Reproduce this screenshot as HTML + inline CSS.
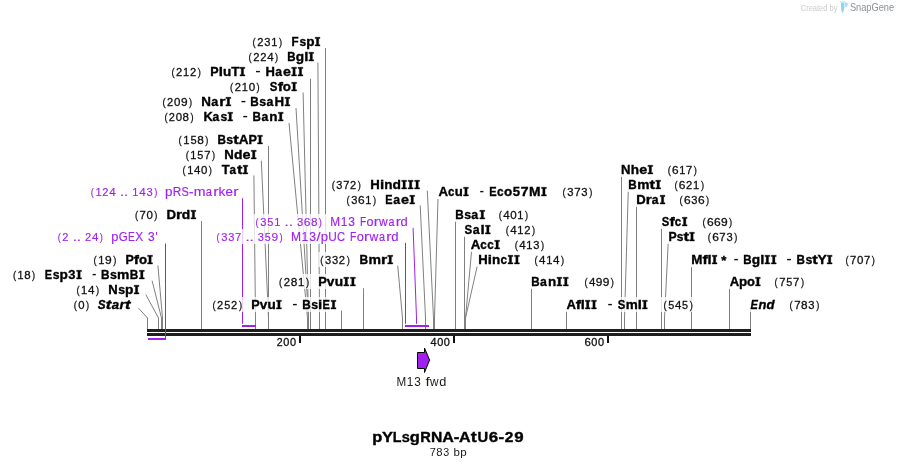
<!DOCTYPE html>
<html><head><meta charset="utf-8"><style>
html,body{margin:0;padding:0;background:#fff;}
body{width:898px;height:468px;overflow:hidden;position:relative;}
svg{position:absolute;left:0;top:0;will-change:transform;}
text{font-family:"Liberation Sans",sans-serif;font-kerning:none;}
</style></head><body>
<svg width="898" height="468" viewBox="0 0 898 468">

<g stroke="#808080" stroke-width="1" fill="none"><path d="M325.50 48.10L325.50 318L325.50 329"/><path d="M317.90 62.50L319.50 318L319.50 329"/><path d="M310.50 78.80L310.50 318L310.50 329"/><path d="M303.10 92.50L308.50 318L308.50 329"/><path d="M296.00 108.00L308.50 318L308.50 329"/><path d="M289.00 123.00L307.50 318L307.50 329"/><path d="M268.50 146.00L268.50 318L268.50 329"/><path d="M261.30 160.70L268.50 318L268.50 329"/><path d="M253.90 175.40L255.50 318L255.50 329"/><path d="M201.50 221.00L201.50 318L201.50 329"/><path d="M157.90 265.40L162.50 318L162.50 329"/><path d="M152.10 280.70L161.50 318L161.50 329"/><path d="M145.80 294.60L158.50 318L158.50 329"/><path d="M138.50 308.20L147.50 318L147.50 329"/><path d="M427.30 190.70L433.50 318L433.50 329"/><path d="M420.20 205.40L425.50 318L425.50 329"/><path d="M397.70 265.60L402.50 318L402.50 329"/><path d="M363.50 288.30L363.50 318L363.50 329"/><path d="M341.50 310.60L341.50 318L341.50 329"/><path d="M438.00 199.00L434.50 318L434.50 329"/><path d="M455.50 221.00L455.50 318L455.50 329"/><path d="M464.50 236.00L464.50 318L464.50 329"/><path d="M471.60 250.70L465.50 318L465.50 329"/><path d="M477.40 265.50L465.50 318L465.50 329"/><path d="M531.50 288.10L531.50 318L531.50 329"/><path d="M566.50 311.00L566.50 318L566.50 329"/><path d="M621.50 175.40L621.50 318L621.50 329"/><path d="M628.30 189.60L624.50 318L624.50 329"/><path d="M636.50 205.70L636.50 318L636.50 329"/><path d="M661.50 228.00L661.50 318L661.50 329"/><path d="M668.20 242.60L664.50 318L664.50 329"/><path d="M691.50 267.20L691.50 318L691.50 329"/><path d="M729.50 288.30L729.50 318L729.50 329"/><path d="M750.50 310.00L750.50 318L750.50 329"/></g>
<g stroke="#a020f0" stroke-width="1" fill="none"><path d="M242.5 198.3V323.8"/><path d="M413.1 227.8L416.5 318V323.8"/><path d="M405.5 242.8V323.8"/></g>
<rect x="250.7" y="34.0" width="71.7" height="15" fill="#fff" fill-opacity="0.78"/>
<rect x="246.7" y="49.0" width="69.4" height="15" fill="#fff" fill-opacity="0.78"/>
<rect x="169.6" y="64.0" width="135.7" height="15" fill="#fff" fill-opacity="0.78"/>
<rect x="228.2" y="79.0" width="70.8" height="15" fill="#fff" fill-opacity="0.78"/>
<rect x="160.7" y="94.0" width="131.6" height="15" fill="#fff" fill-opacity="0.78"/>
<rect x="162.5" y="109.0" width="123.1" height="15" fill="#fff" fill-opacity="0.78"/>
<rect x="176.7" y="132.0" width="88.2" height="15" fill="#fff" fill-opacity="0.78"/>
<rect x="183.8" y="147.0" width="74.8" height="15" fill="#fff" fill-opacity="0.78"/>
<rect x="180.7" y="162.0" width="69.5" height="15" fill="#fff" fill-opacity="0.78"/>
<rect x="88.8" y="184.0" width="151.9" height="15" fill="#fff" fill-opacity="0.78"/>
<rect x="133.1" y="207.0" width="65.2" height="15" fill="#fff" fill-opacity="0.78"/>
<rect x="55.8" y="229.0" width="103.8" height="15" fill="#fff" fill-opacity="0.78"/>
<rect x="253.6" y="214.0" width="155.8" height="15" fill="#fff" fill-opacity="0.78"/>
<rect x="214.6" y="229.0" width="185.6" height="15" fill="#fff" fill-opacity="0.78"/>
<rect x="91.7" y="252.0" width="63.2" height="15" fill="#fff" fill-opacity="0.78"/>
<rect x="11.1" y="267.0" width="135.6" height="15" fill="#fff" fill-opacity="0.78"/>
<rect x="74.5" y="282.0" width="66.9" height="15" fill="#fff" fill-opacity="0.78"/>
<rect x="71.8" y="297.0" width="61.8" height="15" fill="#fff" fill-opacity="0.78"/>
<rect x="329.8" y="177.0" width="92.2" height="15" fill="#fff" fill-opacity="0.78"/>
<rect x="344.7" y="192.0" width="72.4" height="15" fill="#fff" fill-opacity="0.78"/>
<rect x="318.4" y="252.0" width="76.8" height="15" fill="#fff" fill-opacity="0.78"/>
<rect x="277.2" y="274.0" width="80.6" height="15" fill="#fff" fill-opacity="0.78"/>
<rect x="210.7" y="297.0" width="127.7" height="15" fill="#fff" fill-opacity="0.78"/>
<rect x="436.5" y="184.0" width="157.7" height="15" fill="#fff" fill-opacity="0.78"/>
<rect x="453.6" y="207.0" width="76.5" height="15" fill="#fff" fill-opacity="0.78"/>
<rect x="462.5" y="222.0" width="74.6" height="15" fill="#fff" fill-opacity="0.78"/>
<rect x="468.8" y="237.0" width="77.3" height="15" fill="#fff" fill-opacity="0.78"/>
<rect x="476.7" y="252.0" width="89.3" height="15" fill="#fff" fill-opacity="0.78"/>
<rect x="529.6" y="274.0" width="86.2" height="15" fill="#fff" fill-opacity="0.78"/>
<rect x="564.5" y="297.0" width="130.3" height="15" fill="#fff" fill-opacity="0.78"/>
<rect x="619.6" y="162.0" width="79.2" height="15" fill="#fff" fill-opacity="0.78"/>
<rect x="626.7" y="177.0" width="79.2" height="15" fill="#fff" fill-opacity="0.78"/>
<rect x="634.8" y="192.0" width="76.2" height="15" fill="#fff" fill-opacity="0.78"/>
<rect x="659.7" y="214.0" width="74.4" height="15" fill="#fff" fill-opacity="0.78"/>
<rect x="666.8" y="229.0" width="72.4" height="15" fill="#fff" fill-opacity="0.78"/>
<rect x="689.7" y="252.0" width="187.1" height="15" fill="#fff" fill-opacity="0.78"/>
<rect x="727.6" y="274.0" width="78.3" height="15" fill="#fff" fill-opacity="0.78"/>
<rect x="748.3" y="297.0" width="72.9" height="15" fill="#fff" fill-opacity="0.78"/>
<text transform="matrix(0.800 0 0 1 252.62 46.00)" font-size="11.66" fill="#111" stroke="#111" stroke-width="0.3">(</text>
<text transform="matrix(0.959 0 0 1 257.14 46.00)" font-size="11.66" fill="#111" stroke="#111" stroke-width="0.3">2</text>
<text transform="matrix(0.955 0 0 1 264.31 46.00)" font-size="11.66" fill="#111" stroke="#111" stroke-width="0.3">3</text>
<text transform="matrix(0.950 0 0 1 271.27 46.00)" font-size="11.66" fill="#111" stroke="#111" stroke-width="0.3">1</text>
<text transform="matrix(0.800 0 0 1 279.08 46.00)" font-size="11.66" fill="#111" stroke="#111" stroke-width="0.3">)</text>
<text transform="matrix(0.916 0 0 1 291.62 46.00)" font-size="12.72" font-weight="bold" fill="#000" stroke="#000" stroke-width="0.35">F</text>
<text transform="matrix(0.947 0 0 1 299.47 46.00)" font-size="12.72" font-weight="bold" fill="#000" stroke="#000" stroke-width="0.35">s</text>
<text transform="matrix(1.067 0 0 1 306.31 46.00)" font-size="12.72" font-weight="bold" fill="#000" stroke="#000" stroke-width="0.35">p</text>
<path d="M315.14 37.25H320.00V38.57H318.71V44.68H320.00V46.00H315.14V44.68H316.43V38.57H315.14Z" fill="#000" stroke="#000" stroke-width="0.35"/>
<text transform="matrix(0.800 0 0 1 248.62 61.00)" font-size="11.66" fill="#111" stroke="#111" stroke-width="0.3">(</text>
<text transform="matrix(0.959 0 0 1 253.14 61.00)" font-size="11.66" fill="#111" stroke="#111" stroke-width="0.3">2</text>
<text transform="matrix(0.959 0 0 1 260.14 61.00)" font-size="11.66" fill="#111" stroke="#111" stroke-width="0.3">2</text>
<text transform="matrix(0.995 0 0 1 267.17 61.00)" font-size="11.66" fill="#111" stroke="#111" stroke-width="0.3">4</text>
<text transform="matrix(0.800 0 0 1 275.08 61.00)" font-size="11.66" fill="#111" stroke="#111" stroke-width="0.3">)</text>
<text transform="matrix(0.905 0 0 1 287.23 61.00)" font-size="12.72" font-weight="bold" fill="#000" stroke="#000" stroke-width="0.35">B</text>
<text transform="matrix(1.074 0 0 1 295.81 61.00)" font-size="12.72" font-weight="bold" fill="#000" stroke="#000" stroke-width="0.35">g</text>
<text transform="matrix(1.172 0 0 1 304.16 61.00)" font-size="12.72" font-weight="bold" fill="#000" stroke="#000" stroke-width="0.35">l</text>
<path d="M308.82 52.25H313.70V53.57H312.40V59.68H313.70V61.00H308.82V59.68H310.12V53.57H308.82Z" fill="#000" stroke="#000" stroke-width="0.35"/>
<text transform="matrix(0.800 0 0 1 171.51 76.00)" font-size="11.66" fill="#111" stroke="#111" stroke-width="0.3">(</text>
<text transform="matrix(0.952 0 0 1 176.01 76.00)" font-size="11.66" fill="#111" stroke="#111" stroke-width="0.3">2</text>
<text transform="matrix(0.944 0 0 1 183.09 76.00)" font-size="11.66" fill="#111" stroke="#111" stroke-width="0.3">1</text>
<text transform="matrix(0.952 0 0 1 189.92 76.00)" font-size="11.66" fill="#111" stroke="#111" stroke-width="0.3">2</text>
<text transform="matrix(0.800 0 0 1 197.78 76.00)" font-size="11.66" fill="#111" stroke="#111" stroke-width="0.3">)</text>
<text transform="matrix(0.988 0 0 1 210.36 76.00)" font-size="12.72" font-weight="bold" fill="#000" stroke="#000" stroke-width="0.35">P</text>
<text transform="matrix(1.186 0 0 1 218.74 76.00)" font-size="12.72" font-weight="bold" fill="#000" stroke="#000" stroke-width="0.35">l</text>
<text transform="matrix(1.060 0 0 1 222.94 76.00)" font-size="12.72" font-weight="bold" fill="#000" stroke="#000" stroke-width="0.35">u</text>
<text transform="matrix(1.063 0 0 1 231.19 76.00)" font-size="12.72" font-weight="bold" fill="#000" stroke="#000" stroke-width="0.35">T</text>
<path d="M239.96 67.25H244.90V68.57H243.57V74.68H244.90V76.00H239.96V74.68H241.29V68.57H239.96Z" fill="#000" stroke="#000" stroke-width="0.35"/>
<rect x="256.00" y="70.90" width="3.90" height="1.4" fill="#111"/>
<text transform="matrix(1.025 0 0 1 265.53 76.00)" font-size="12.72" font-weight="bold" fill="#000" stroke="#000" stroke-width="0.35">H</text>
<text transform="matrix(0.957 0 0 1 275.29 76.00)" font-size="12.72" font-weight="bold" fill="#000" stroke="#000" stroke-width="0.35">a</text>
<text transform="matrix(1.121 0 0 1 283.01 76.00)" font-size="12.72" font-weight="bold" fill="#000" stroke="#000" stroke-width="0.35">e</text>
<path d="M291.60 67.25H296.49V68.57H295.19V74.68H296.49V76.00H291.60V74.68H292.91V68.57H291.60Z" fill="#000" stroke="#000" stroke-width="0.35"/>
<path d="M298.01 67.25H302.90V68.57H301.59V74.68H302.90V76.00H298.01V74.68H299.31V68.57H298.01Z" fill="#000" stroke="#000" stroke-width="0.35"/>
<text transform="matrix(0.800 0 0 1 230.12 91.00)" font-size="11.66" fill="#111" stroke="#111" stroke-width="0.3">(</text>
<text transform="matrix(0.959 0 0 1 234.64 91.00)" font-size="11.66" fill="#111" stroke="#111" stroke-width="0.3">2</text>
<text transform="matrix(0.950 0 0 1 241.76 91.00)" font-size="11.66" fill="#111" stroke="#111" stroke-width="0.3">1</text>
<text transform="matrix(0.995 0 0 1 248.67 91.00)" font-size="11.66" fill="#111" stroke="#111" stroke-width="0.3">0</text>
<text transform="matrix(0.800 0 0 1 256.58 91.00)" font-size="11.66" fill="#111" stroke="#111" stroke-width="0.3">)</text>
<text transform="matrix(0.897 0 0 1 269.67 91.00)" font-size="12.72" font-weight="bold" fill="#000" stroke="#000" stroke-width="0.35">S</text>
<text transform="matrix(1.249 0 0 1 277.66 91.00)" font-size="12.72" font-weight="bold" fill="#000" stroke="#000" stroke-width="0.35">f</text>
<text transform="matrix(1.055 0 0 1 282.87 91.00)" font-size="12.72" font-weight="bold" fill="#000" stroke="#000" stroke-width="0.35">o</text>
<path d="M291.64 82.25H296.60V83.57H295.26V89.68H296.60V91.00H291.64V89.68H292.98V83.57H291.64Z" fill="#000" stroke="#000" stroke-width="0.35"/>
<text transform="matrix(0.800 0 0 1 162.61 106.00)" font-size="11.66" fill="#111" stroke="#111" stroke-width="0.3">(</text>
<text transform="matrix(0.952 0 0 1 167.11 106.00)" font-size="11.66" fill="#111" stroke="#111" stroke-width="0.3">2</text>
<text transform="matrix(0.988 0 0 1 174.09 106.00)" font-size="11.66" fill="#111" stroke="#111" stroke-width="0.3">0</text>
<text transform="matrix(1.020 0 0 1 180.91 106.00)" font-size="11.66" fill="#111" stroke="#111" stroke-width="0.3">9</text>
<text transform="matrix(0.800 0 0 1 188.88 106.00)" font-size="11.66" fill="#111" stroke="#111" stroke-width="0.3">)</text>
<text transform="matrix(1.057 0 0 1 201.20 106.00)" font-size="12.72" font-weight="bold" fill="#000" stroke="#000" stroke-width="0.35">N</text>
<text transform="matrix(0.987 0 0 1 211.27 106.00)" font-size="12.72" font-weight="bold" fill="#000" stroke="#000" stroke-width="0.35">a</text>
<text transform="matrix(1.254 0 0 1 219.25 106.00)" font-size="12.72" font-weight="bold" fill="#000" stroke="#000" stroke-width="0.35">r</text>
<path d="M225.85 97.25H230.90V98.57H229.52V104.68H230.90V106.00H225.85V104.68H227.24V98.57H225.85Z" fill="#000" stroke="#000" stroke-width="0.35"/>
<rect x="241.50" y="100.90" width="3.90" height="1.4" fill="#111"/>
<text transform="matrix(0.925 0 0 1 250.31 106.00)" font-size="12.72" font-weight="bold" fill="#000" stroke="#000" stroke-width="0.35">B</text>
<text transform="matrix(0.972 0 0 1 259.30 106.00)" font-size="12.72" font-weight="bold" fill="#000" stroke="#000" stroke-width="0.35">s</text>
<text transform="matrix(0.975 0 0 1 266.39 106.00)" font-size="12.72" font-weight="bold" fill="#000" stroke="#000" stroke-width="0.35">a</text>
<text transform="matrix(1.045 0 0 1 274.51 106.00)" font-size="12.72" font-weight="bold" fill="#000" stroke="#000" stroke-width="0.35">H</text>
<path d="M284.91 97.25H289.90V98.57H288.55V104.68H289.90V106.00H284.91V104.68H286.27V98.57H284.91Z" fill="#000" stroke="#000" stroke-width="0.35"/>
<text transform="matrix(0.800 0 0 1 164.40 121.00)" font-size="11.66" fill="#111" stroke="#111" stroke-width="0.3">(</text>
<text transform="matrix(0.942 0 0 1 168.87 121.00)" font-size="11.66" fill="#111" stroke="#111" stroke-width="0.3">2</text>
<text transform="matrix(0.977 0 0 1 175.78 121.00)" font-size="11.66" fill="#111" stroke="#111" stroke-width="0.3">0</text>
<text transform="matrix(0.988 0 0 1 182.62 121.00)" font-size="11.66" fill="#111" stroke="#111" stroke-width="0.3">8</text>
<text transform="matrix(0.800 0 0 1 190.40 121.00)" font-size="11.66" fill="#111" stroke="#111" stroke-width="0.3">)</text>
<text transform="matrix(1.019 0 0 1 203.43 121.00)" font-size="12.72" font-weight="bold" fill="#000" stroke="#000" stroke-width="0.35">K</text>
<text transform="matrix(0.957 0 0 1 212.46 121.00)" font-size="12.72" font-weight="bold" fill="#000" stroke="#000" stroke-width="0.35">a</text>
<text transform="matrix(0.954 0 0 1 220.42 121.00)" font-size="12.72" font-weight="bold" fill="#000" stroke="#000" stroke-width="0.35">s</text>
<path d="M227.81 112.25H232.70V113.57H231.39V119.68H232.70V121.00H227.81V119.68H229.11V113.57H227.81Z" fill="#000" stroke="#000" stroke-width="0.35"/>
<rect x="243.30" y="115.90" width="3.90" height="1.4" fill="#111"/>
<text transform="matrix(0.916 0 0 1 252.52 121.00)" font-size="12.72" font-weight="bold" fill="#000" stroke="#000" stroke-width="0.35">B</text>
<text transform="matrix(0.966 0 0 1 261.39 121.00)" font-size="12.72" font-weight="bold" fill="#000" stroke="#000" stroke-width="0.35">a</text>
<text transform="matrix(1.060 0 0 1 269.34 121.00)" font-size="12.72" font-weight="bold" fill="#000" stroke="#000" stroke-width="0.35">n</text>
<path d="M278.26 112.25H283.20V113.57H281.87V119.68H283.20V121.00H278.26V119.68H279.59V113.57H278.26Z" fill="#000" stroke="#000" stroke-width="0.35"/>
<text transform="matrix(0.806 0 0 1 178.62 144.00)" font-size="11.66" fill="#111" stroke="#111" stroke-width="0.3">(</text>
<text transform="matrix(0.960 0 0 1 183.31 144.00)" font-size="11.66" fill="#111" stroke="#111" stroke-width="0.3">1</text>
<text transform="matrix(0.949 0 0 1 190.43 144.00)" font-size="11.66" fill="#111" stroke="#111" stroke-width="0.3">5</text>
<text transform="matrix(1.016 0 0 1 197.33 144.00)" font-size="11.66" fill="#111" stroke="#111" stroke-width="0.3">8</text>
<text transform="matrix(0.806 0 0 1 205.35 144.00)" font-size="11.66" fill="#111" stroke="#111" stroke-width="0.3">)</text>
<text transform="matrix(0.922 0 0 1 217.42 144.00)" font-size="12.72" font-weight="bold" fill="#000" stroke="#000" stroke-width="0.35">B</text>
<text transform="matrix(0.968 0 0 1 226.37 144.00)" font-size="12.72" font-weight="bold" fill="#000" stroke="#000" stroke-width="0.35">s</text>
<text transform="matrix(1.300 0 0 1 233.32 144.00)" font-size="12.72" font-weight="bold" fill="#000" stroke="#000" stroke-width="0.35">t</text>
<text transform="matrix(1.067 0 0 1 238.70 144.00)" font-size="12.72" font-weight="bold" fill="#000" stroke="#000" stroke-width="0.35">A</text>
<text transform="matrix(0.993 0 0 1 248.45 144.00)" font-size="12.72" font-weight="bold" fill="#000" stroke="#000" stroke-width="0.35">P</text>
<path d="M257.53 135.25H262.50V136.57H261.16V142.68H262.50V144.00H257.53V142.68H258.88V136.57H257.53Z" fill="#000" stroke="#000" stroke-width="0.35"/>
<text transform="matrix(0.800 0 0 1 185.71 159.00)" font-size="11.66" fill="#111" stroke="#111" stroke-width="0.3">(</text>
<text transform="matrix(0.944 0 0 1 190.33 159.00)" font-size="11.66" fill="#111" stroke="#111" stroke-width="0.3">1</text>
<text transform="matrix(0.932 0 0 1 197.33 159.00)" font-size="11.66" fill="#111" stroke="#111" stroke-width="0.3">5</text>
<text transform="matrix(0.966 0 0 1 204.19 159.00)" font-size="11.66" fill="#111" stroke="#111" stroke-width="0.3">7</text>
<text transform="matrix(0.800 0 0 1 211.98 159.00)" font-size="11.66" fill="#111" stroke="#111" stroke-width="0.3">)</text>
<text transform="matrix(1.039 0 0 1 224.32 159.00)" font-size="12.72" font-weight="bold" fill="#000" stroke="#000" stroke-width="0.35">N</text>
<text transform="matrix(1.089 0 0 1 234.03 159.00)" font-size="12.72" font-weight="bold" fill="#000" stroke="#000" stroke-width="0.35">d</text>
<text transform="matrix(1.137 0 0 1 242.52 159.00)" font-size="12.72" font-weight="bold" fill="#000" stroke="#000" stroke-width="0.35">e</text>
<path d="M251.24 150.25H256.20V151.57H254.86V157.68H256.20V159.00H251.24V157.68H252.58V151.57H251.24Z" fill="#000" stroke="#000" stroke-width="0.35"/>
<text transform="matrix(0.800 0 0 1 182.60 174.00)" font-size="11.66" fill="#111" stroke="#111" stroke-width="0.3">(</text>
<text transform="matrix(0.940 0 0 1 187.22 174.00)" font-size="11.66" fill="#111" stroke="#111" stroke-width="0.3">1</text>
<text transform="matrix(0.985 0 0 1 194.05 174.00)" font-size="11.66" fill="#111" stroke="#111" stroke-width="0.3">4</text>
<text transform="matrix(0.984 0 0 1 200.98 174.00)" font-size="11.66" fill="#111" stroke="#111" stroke-width="0.3">0</text>
<text transform="matrix(0.800 0 0 1 208.79 174.00)" font-size="11.66" fill="#111" stroke="#111" stroke-width="0.3">)</text>
<text transform="matrix(1.015 0 0 1 221.65 174.00)" font-size="12.72" font-weight="bold" fill="#000" stroke="#000" stroke-width="0.35">T</text>
<text transform="matrix(0.923 0 0 1 229.61 174.00)" font-size="12.72" font-weight="bold" fill="#000" stroke="#000" stroke-width="0.35">a</text>
<text transform="matrix(1.274 0 0 1 237.05 174.00)" font-size="12.72" font-weight="bold" fill="#000" stroke="#000" stroke-width="0.35">t</text>
<path d="M243.08 165.25H247.80V166.57H246.58V172.68H247.80V174.00H243.08V172.68H244.30V166.57H243.08Z" fill="#000" stroke="#000" stroke-width="0.35"/>
<text transform="matrix(0.801 0 0 1 90.72 196.00)" font-size="11.66" fill="#a020f0" stroke="#a020f0" stroke-width="0.15">(</text>
<text transform="matrix(0.955 0 0 1 95.38 196.00)" font-size="11.66" fill="#a020f0" stroke="#a020f0" stroke-width="0.15">1</text>
<text transform="matrix(0.964 0 0 1 102.30 196.00)" font-size="11.66" fill="#a020f0" stroke="#a020f0" stroke-width="0.15">2</text>
<text transform="matrix(1.000 0 0 1 109.36 196.00)" font-size="11.66" fill="#a020f0" stroke="#a020f0" stroke-width="0.15">4</text>
<text transform="matrix(1.300 0 0 1 119.91 196.00)" font-size="11.66" fill="#a020f0" stroke="#a020f0" stroke-width="0.15">.</text>
<text transform="matrix(1.300 0 0 1 123.94 196.00)" font-size="11.66" fill="#a020f0" stroke="#a020f0" stroke-width="0.15">.</text>
<text transform="matrix(0.955 0 0 1 132.34 196.00)" font-size="11.66" fill="#a020f0" stroke="#a020f0" stroke-width="0.15">1</text>
<text transform="matrix(1.000 0 0 1 139.28 196.00)" font-size="11.66" fill="#a020f0" stroke="#a020f0" stroke-width="0.15">4</text>
<text transform="matrix(0.960 0 0 1 146.46 196.00)" font-size="11.66" fill="#a020f0" stroke="#a020f0" stroke-width="0.15">3</text>
<text transform="matrix(0.801 0 0 1 154.27 196.00)" font-size="11.66" fill="#a020f0" stroke="#a020f0" stroke-width="0.15">)</text>
<text transform="matrix(1.061 0 0 1 164.93 196.00)" font-size="12.72" fill="#a020f0" stroke="#a020f0" stroke-width="0.15">p</text>
<text transform="matrix(0.932 0 0 1 172.79 196.00)" font-size="12.72" fill="#a020f0" stroke="#a020f0" stroke-width="0.15">R</text>
<text transform="matrix(0.869 0 0 1 181.48 196.00)" font-size="12.72" fill="#a020f0" stroke="#a020f0" stroke-width="0.15">S</text>
<text transform="matrix(1.051 0 0 1 189.05 196.00)" font-size="12.72" fill="#a020f0" stroke="#a020f0" stroke-width="0.15">-</text>
<text transform="matrix(1.111 0 0 1 193.70 196.00)" font-size="12.72" fill="#a020f0" stroke="#a020f0" stroke-width="0.15">m</text>
<text transform="matrix(0.877 0 0 1 205.86 196.00)" font-size="12.72" fill="#a020f0" stroke="#a020f0" stroke-width="0.15">a</text>
<text transform="matrix(1.249 0 0 1 213.26 196.00)" font-size="12.72" fill="#a020f0" stroke="#a020f0" stroke-width="0.15">r</text>
<text transform="matrix(1.090 0 0 1 218.48 196.00)" font-size="12.72" fill="#a020f0" stroke="#a020f0" stroke-width="0.15">k</text>
<text transform="matrix(1.053 0 0 1 225.59 196.00)" font-size="12.72" fill="#a020f0" stroke="#a020f0" stroke-width="0.15">e</text>
<text transform="matrix(1.249 0 0 1 233.17 196.00)" font-size="12.72" fill="#a020f0" stroke="#a020f0" stroke-width="0.15">r</text>
<text transform="matrix(0.800 0 0 1 135.01 219.00)" font-size="11.66" fill="#111" stroke="#111" stroke-width="0.3">(</text>
<text transform="matrix(0.964 0 0 1 139.58 219.00)" font-size="11.66" fill="#111" stroke="#111" stroke-width="0.3">7</text>
<text transform="matrix(0.986 0 0 1 146.47 219.00)" font-size="11.66" fill="#111" stroke="#111" stroke-width="0.3">0</text>
<text transform="matrix(0.800 0 0 1 154.29 219.00)" font-size="11.66" fill="#111" stroke="#111" stroke-width="0.3">)</text>
<text transform="matrix(1.042 0 0 1 166.41 219.00)" font-size="12.72" font-weight="bold" fill="#000" stroke="#000" stroke-width="0.35">D</text>
<text transform="matrix(1.228 0 0 1 176.01 219.00)" font-size="12.72" font-weight="bold" fill="#000" stroke="#000" stroke-width="0.35">r</text>
<text transform="matrix(1.085 0 0 1 181.85 219.00)" font-size="12.72" font-weight="bold" fill="#000" stroke="#000" stroke-width="0.35">d</text>
<path d="M190.96 210.25H195.90V211.57H194.57V217.68H195.90V219.00H190.96V217.68H192.29V211.57H190.96Z" fill="#000" stroke="#000" stroke-width="0.35"/>
<text transform="matrix(0.800 0 0 1 57.71 241.00)" font-size="11.66" fill="#a020f0" stroke="#a020f0" stroke-width="0.15">(</text>
<text transform="matrix(0.956 0 0 1 62.23 241.00)" font-size="11.66" fill="#a020f0" stroke="#a020f0" stroke-width="0.15">2</text>
<text transform="matrix(1.300 0 0 1 72.69 241.00)" font-size="11.66" fill="#a020f0" stroke="#a020f0" stroke-width="0.15">.</text>
<text transform="matrix(1.300 0 0 1 76.68 241.00)" font-size="11.66" fill="#a020f0" stroke="#a020f0" stroke-width="0.15">.</text>
<text transform="matrix(0.956 0 0 1 84.91 241.00)" font-size="11.66" fill="#a020f0" stroke="#a020f0" stroke-width="0.15">2</text>
<text transform="matrix(0.991 0 0 1 91.91 241.00)" font-size="11.66" fill="#a020f0" stroke="#a020f0" stroke-width="0.15">4</text>
<text transform="matrix(0.800 0 0 1 99.78 241.00)" font-size="11.66" fill="#a020f0" stroke="#a020f0" stroke-width="0.15">)</text>
<text transform="matrix(1.010 0 0 1 111.37 241.00)" font-size="12.72" fill="#a020f0" stroke="#a020f0" stroke-width="0.15">p</text>
<text transform="matrix(0.905 0 0 1 118.71 241.00)" font-size="12.72" fill="#a020f0" stroke="#a020f0" stroke-width="0.15">G</text>
<text transform="matrix(0.804 0 0 1 128.09 241.00)" font-size="12.72" fill="#a020f0" stroke="#a020f0" stroke-width="0.15">E</text>
<text transform="matrix(0.929 0 0 1 135.32 241.00)" font-size="12.72" fill="#a020f0" stroke="#a020f0" stroke-width="0.15">X</text>
<text transform="matrix(0.940 0 0 1 147.92 241.00)" font-size="12.72" fill="#a020f0" stroke="#a020f0" stroke-width="0.15">3</text>
<text transform="matrix(0.858 0 0 1 155.57 241.00)" font-size="12.72" fill="#a020f0" stroke="#a020f0" stroke-width="0.15">'</text>
<text transform="matrix(0.800 0 0 1 255.52 226.00)" font-size="11.66" fill="#a020f0" stroke="#a020f0" stroke-width="0.15">(</text>
<text transform="matrix(0.957 0 0 1 260.22 226.00)" font-size="11.66" fill="#a020f0" stroke="#a020f0" stroke-width="0.15">3</text>
<text transform="matrix(0.941 0 0 1 267.23 226.00)" font-size="11.66" fill="#a020f0" stroke="#a020f0" stroke-width="0.15">5</text>
<text transform="matrix(0.952 0 0 1 274.20 226.00)" font-size="11.66" fill="#a020f0" stroke="#a020f0" stroke-width="0.15">1</text>
<text transform="matrix(1.300 0 0 1 284.62 226.00)" font-size="11.66" fill="#a020f0" stroke="#a020f0" stroke-width="0.15">.</text>
<text transform="matrix(1.300 0 0 1 288.63 226.00)" font-size="11.66" fill="#a020f0" stroke="#a020f0" stroke-width="0.15">.</text>
<text transform="matrix(0.957 0 0 1 297.06 226.00)" font-size="11.66" fill="#a020f0" stroke="#a020f0" stroke-width="0.15">3</text>
<text transform="matrix(1.032 0 0 1 303.82 226.00)" font-size="11.66" fill="#a020f0" stroke="#a020f0" stroke-width="0.15">6</text>
<text transform="matrix(1.008 0 0 1 310.92 226.00)" font-size="11.66" fill="#a020f0" stroke="#a020f0" stroke-width="0.15">8</text>
<text transform="matrix(0.800 0 0 1 318.87 226.00)" font-size="11.66" fill="#a020f0" stroke="#a020f0" stroke-width="0.15">)</text>
<text transform="matrix(0.930 0 0 1 330.33 226.00)" font-size="12.72" fill="#a020f0" stroke="#a020f0" stroke-width="0.15">M</text>
<text transform="matrix(0.939 0 0 1 340.76 226.00)" font-size="12.72" fill="#a020f0" stroke="#a020f0" stroke-width="0.15">1</text>
<text transform="matrix(0.944 0 0 1 348.36 226.00)" font-size="12.72" fill="#a020f0" stroke="#a020f0" stroke-width="0.15">3</text>
<text transform="matrix(0.800 0 0 1 359.97 226.00)" font-size="12.72" fill="#a020f0" stroke="#a020f0" stroke-width="0.15">F</text>
<text transform="matrix(0.991 0 0 1 366.59 226.00)" font-size="12.72" fill="#a020f0" stroke="#a020f0" stroke-width="0.15">o</text>
<text transform="matrix(1.195 0 0 1 373.79 226.00)" font-size="12.72" fill="#a020f0" stroke="#a020f0" stroke-width="0.15">r</text>
<text transform="matrix(0.943 0 0 1 379.11 226.00)" font-size="12.72" fill="#a020f0" stroke="#a020f0" stroke-width="0.15">w</text>
<text transform="matrix(0.839 0 0 1 388.56 226.00)" font-size="12.72" fill="#a020f0" stroke="#a020f0" stroke-width="0.15">a</text>
<text transform="matrix(1.195 0 0 1 395.64 226.00)" font-size="12.72" fill="#a020f0" stroke="#a020f0" stroke-width="0.15">r</text>
<text transform="matrix(1.014 0 0 1 400.56 226.00)" font-size="12.72" fill="#a020f0" stroke="#a020f0" stroke-width="0.15">d</text>
<text transform="matrix(0.800 0 0 1 216.51 241.00)" font-size="11.66" fill="#a020f0" stroke="#a020f0" stroke-width="0.15">(</text>
<text transform="matrix(0.952 0 0 1 221.19 241.00)" font-size="11.66" fill="#a020f0" stroke="#a020f0" stroke-width="0.15">3</text>
<text transform="matrix(0.952 0 0 1 228.17 241.00)" font-size="11.66" fill="#a020f0" stroke="#a020f0" stroke-width="0.15">3</text>
<text transform="matrix(0.969 0 0 1 235.05 241.00)" font-size="11.66" fill="#a020f0" stroke="#a020f0" stroke-width="0.15">7</text>
<text transform="matrix(1.300 0 0 1 245.43 241.00)" font-size="11.66" fill="#a020f0" stroke="#a020f0" stroke-width="0.15">.</text>
<text transform="matrix(1.300 0 0 1 249.42 241.00)" font-size="11.66" fill="#a020f0" stroke="#a020f0" stroke-width="0.15">.</text>
<text transform="matrix(0.952 0 0 1 257.81 241.00)" font-size="11.66" fill="#a020f0" stroke="#a020f0" stroke-width="0.15">3</text>
<text transform="matrix(0.935 0 0 1 264.78 241.00)" font-size="11.66" fill="#a020f0" stroke="#a020f0" stroke-width="0.15">5</text>
<text transform="matrix(1.023 0 0 1 271.48 241.00)" font-size="11.66" fill="#a020f0" stroke="#a020f0" stroke-width="0.15">9</text>
<text transform="matrix(0.800 0 0 1 279.48 241.00)" font-size="11.66" fill="#a020f0" stroke="#a020f0" stroke-width="0.15">)</text>
<text transform="matrix(0.945 0 0 1 290.91 241.00)" font-size="12.72" fill="#a020f0" stroke="#a020f0" stroke-width="0.15">M</text>
<text transform="matrix(0.954 0 0 1 301.52 241.00)" font-size="12.72" fill="#a020f0" stroke="#a020f0" stroke-width="0.15">1</text>
<text transform="matrix(0.960 0 0 1 309.24 241.00)" font-size="12.72" fill="#a020f0" stroke="#a020f0" stroke-width="0.15">3</text>
<text transform="matrix(1.149 0 0 1 316.46 241.00)" font-size="12.72" fill="#a020f0" stroke="#a020f0" stroke-width="0.15">/</text>
<text transform="matrix(1.031 0 0 1 320.77 241.00)" font-size="12.72" fill="#a020f0" stroke="#a020f0" stroke-width="0.15">p</text>
<text transform="matrix(0.932 0 0 1 328.31 241.00)" font-size="12.72" fill="#a020f0" stroke="#a020f0" stroke-width="0.15">U</text>
<text transform="matrix(0.880 0 0 1 337.11 241.00)" font-size="12.72" fill="#a020f0" stroke="#a020f0" stroke-width="0.15">C</text>
<text transform="matrix(0.812 0 0 1 350.00 241.00)" font-size="12.72" fill="#a020f0" stroke="#a020f0" stroke-width="0.15">F</text>
<text transform="matrix(1.008 0 0 1 356.73 241.00)" font-size="12.72" fill="#a020f0" stroke="#a020f0" stroke-width="0.15">o</text>
<text transform="matrix(1.214 0 0 1 364.05 241.00)" font-size="12.72" fill="#a020f0" stroke="#a020f0" stroke-width="0.15">r</text>
<text transform="matrix(0.958 0 0 1 369.46 241.00)" font-size="12.72" fill="#a020f0" stroke="#a020f0" stroke-width="0.15">w</text>
<text transform="matrix(0.852 0 0 1 379.06 241.00)" font-size="12.72" fill="#a020f0" stroke="#a020f0" stroke-width="0.15">a</text>
<text transform="matrix(1.214 0 0 1 386.25 241.00)" font-size="12.72" fill="#a020f0" stroke="#a020f0" stroke-width="0.15">r</text>
<text transform="matrix(1.030 0 0 1 391.26 241.00)" font-size="12.72" fill="#a020f0" stroke="#a020f0" stroke-width="0.15">d</text>
<text transform="matrix(0.801 0 0 1 93.62 264.00)" font-size="11.66" fill="#111" stroke="#111" stroke-width="0.3">(</text>
<text transform="matrix(0.955 0 0 1 98.28 264.00)" font-size="11.66" fill="#111" stroke="#111" stroke-width="0.3">1</text>
<text transform="matrix(1.032 0 0 1 105.08 264.00)" font-size="11.66" fill="#111" stroke="#111" stroke-width="0.3">9</text>
<text transform="matrix(0.801 0 0 1 113.17 264.00)" font-size="11.66" fill="#111" stroke="#111" stroke-width="0.3">)</text>
<text transform="matrix(0.981 0 0 1 125.42 264.00)" font-size="12.72" font-weight="bold" fill="#000" stroke="#000" stroke-width="0.35">P</text>
<text transform="matrix(1.237 0 0 1 133.75 264.00)" font-size="12.72" font-weight="bold" fill="#000" stroke="#000" stroke-width="0.35">f</text>
<text transform="matrix(1.044 0 0 1 138.90 264.00)" font-size="12.72" font-weight="bold" fill="#000" stroke="#000" stroke-width="0.35">o</text>
<path d="M147.59 255.25H152.50V256.57H151.19V262.68H152.50V264.00H147.59V262.68H148.91V256.57H147.59Z" fill="#000" stroke="#000" stroke-width="0.35"/>
<text transform="matrix(0.800 0 0 1 12.99 279.00)" font-size="11.66" fill="#111" stroke="#111" stroke-width="0.3">(</text>
<text transform="matrix(0.933 0 0 1 17.59 279.00)" font-size="11.66" fill="#111" stroke="#111" stroke-width="0.3">1</text>
<text transform="matrix(0.987 0 0 1 24.33 279.00)" font-size="11.66" fill="#111" stroke="#111" stroke-width="0.3">8</text>
<text transform="matrix(0.800 0 0 1 32.10 279.00)" font-size="11.66" fill="#111" stroke="#111" stroke-width="0.3">)</text>
<text transform="matrix(0.853 0 0 1 44.77 279.00)" font-size="12.72" font-weight="bold" fill="#000" stroke="#000" stroke-width="0.35">E</text>
<text transform="matrix(0.954 0 0 1 52.63 279.00)" font-size="12.72" font-weight="bold" fill="#000" stroke="#000" stroke-width="0.35">s</text>
<text transform="matrix(1.075 0 0 1 59.52 279.00)" font-size="12.72" font-weight="bold" fill="#000" stroke="#000" stroke-width="0.35">p</text>
<text transform="matrix(1.020 0 0 1 68.33 279.00)" font-size="12.72" font-weight="bold" fill="#000" stroke="#000" stroke-width="0.35">3</text>
<path d="M76.60 270.25H81.50V271.57H80.19V277.68H81.50V279.00H76.60V277.68H77.91V271.57H76.60Z" fill="#000" stroke="#000" stroke-width="0.35"/>
<rect x="92.60" y="273.90" width="3.20" height="1.4" fill="#111"/>
<text transform="matrix(0.930 0 0 1 101.01 279.00)" font-size="12.72" font-weight="bold" fill="#000" stroke="#000" stroke-width="0.35">B</text>
<text transform="matrix(0.976 0 0 1 110.04 279.00)" font-size="12.72" font-weight="bold" fill="#000" stroke="#000" stroke-width="0.35">s</text>
<text transform="matrix(1.092 0 0 1 117.09 279.00)" font-size="12.72" font-weight="bold" fill="#000" stroke="#000" stroke-width="0.35">m</text>
<text transform="matrix(0.930 0 0 1 129.84 279.00)" font-size="12.72" font-weight="bold" fill="#000" stroke="#000" stroke-width="0.35">B</text>
<path d="M139.29 270.25H144.30V271.57H142.93V277.68H144.30V279.00H139.29V277.68H140.65V271.57H139.29Z" fill="#000" stroke="#000" stroke-width="0.35"/>
<text transform="matrix(0.801 0 0 1 76.42 294.00)" font-size="11.66" fill="#111" stroke="#111" stroke-width="0.3">(</text>
<text transform="matrix(0.955 0 0 1 81.08 294.00)" font-size="11.66" fill="#111" stroke="#111" stroke-width="0.3">1</text>
<text transform="matrix(1.000 0 0 1 88.02 294.00)" font-size="11.66" fill="#111" stroke="#111" stroke-width="0.3">4</text>
<text transform="matrix(0.801 0 0 1 95.97 294.00)" font-size="11.66" fill="#111" stroke="#111" stroke-width="0.3">)</text>
<text transform="matrix(1.032 0 0 1 108.32 294.00)" font-size="12.72" font-weight="bold" fill="#000" stroke="#000" stroke-width="0.35">N</text>
<text transform="matrix(0.960 0 0 1 118.18 294.00)" font-size="12.72" font-weight="bold" fill="#000" stroke="#000" stroke-width="0.35">s</text>
<text transform="matrix(1.081 0 0 1 125.12 294.00)" font-size="12.72" font-weight="bold" fill="#000" stroke="#000" stroke-width="0.35">p</text>
<path d="M134.07 285.25H139.00V286.57H137.68V292.68H139.00V294.00H134.07V292.68H135.40V286.57H134.07Z" fill="#000" stroke="#000" stroke-width="0.35"/>
<text transform="matrix(0.800 0 0 1 73.69 309.00)" font-size="11.66" fill="#111" stroke="#111" stroke-width="0.3">(</text>
<text transform="matrix(0.974 0 0 1 78.19 309.00)" font-size="11.66" fill="#111" stroke="#111" stroke-width="0.3">0</text>
<text transform="matrix(0.800 0 0 1 85.90 309.00)" font-size="11.66" fill="#111" stroke="#111" stroke-width="0.3">)</text>
<text transform="matrix(0.926 0 0 1 97.66 309.00)" font-size="12.72" font-weight="bold" font-style="italic" fill="#000" stroke="#000" stroke-width="0.35">S</text>
<text transform="matrix(1.300 0 0 1 105.87 309.00)" font-size="12.72" font-weight="bold" font-style="italic" fill="#000" stroke="#000" stroke-width="0.35">t</text>
<text transform="matrix(1.044 0 0 1 111.75 309.00)" font-size="12.72" font-weight="bold" font-style="italic" fill="#000" stroke="#000" stroke-width="0.35">a</text>
<text transform="matrix(1.131 0 0 1 119.61 309.00)" font-size="12.72" font-weight="bold" font-style="italic" fill="#000" stroke="#000" stroke-width="0.35">r</text>
<text transform="matrix(1.300 0 0 1 125.10 309.00)" font-size="12.72" font-weight="bold" font-style="italic" fill="#000" stroke="#000" stroke-width="0.35">t</text>
<text transform="matrix(0.800 0 0 1 331.70 189.00)" font-size="11.66" fill="#111" stroke="#111" stroke-width="0.3">(</text>
<text transform="matrix(0.942 0 0 1 336.35 189.00)" font-size="11.66" fill="#111" stroke="#111" stroke-width="0.3">3</text>
<text transform="matrix(0.959 0 0 1 343.16 189.00)" font-size="11.66" fill="#111" stroke="#111" stroke-width="0.3">7</text>
<text transform="matrix(0.945 0 0 1 349.99 189.00)" font-size="11.66" fill="#111" stroke="#111" stroke-width="0.3">2</text>
<text transform="matrix(0.800 0 0 1 357.79 189.00)" font-size="11.66" fill="#111" stroke="#111" stroke-width="0.3">)</text>
<text transform="matrix(1.038 0 0 1 370.32 189.00)" font-size="12.72" font-weight="bold" fill="#000" stroke="#000" stroke-width="0.35">H</text>
<text transform="matrix(1.190 0 0 1 379.99 189.00)" font-size="12.72" font-weight="bold" fill="#000" stroke="#000" stroke-width="0.35">i</text>
<text transform="matrix(1.063 0 0 1 384.23 189.00)" font-size="12.72" font-weight="bold" fill="#000" stroke="#000" stroke-width="0.35">n</text>
<text transform="matrix(1.088 0 0 1 392.54 189.00)" font-size="12.72" font-weight="bold" fill="#000" stroke="#000" stroke-width="0.35">d</text>
<path d="M401.68 180.25H406.63V181.57H405.29V187.68H406.63V189.00H401.68V187.68H403.01V181.57H401.68Z" fill="#000" stroke="#000" stroke-width="0.35"/>
<path d="M408.16 180.25H413.11V181.57H411.78V187.68H413.11V189.00H408.16V187.68H409.50V181.57H408.16Z" fill="#000" stroke="#000" stroke-width="0.35"/>
<path d="M414.65 180.25H419.60V181.57H418.26V187.68H419.60V189.00H414.65V187.68H415.98V181.57H414.65Z" fill="#000" stroke="#000" stroke-width="0.35"/>
<text transform="matrix(0.800 0 0 1 346.61 204.00)" font-size="11.66" fill="#111" stroke="#111" stroke-width="0.3">(</text>
<text transform="matrix(0.949 0 0 1 351.28 204.00)" font-size="11.66" fill="#111" stroke="#111" stroke-width="0.3">3</text>
<text transform="matrix(1.022 0 0 1 357.98 204.00)" font-size="11.66" fill="#111" stroke="#111" stroke-width="0.3">6</text>
<text transform="matrix(0.944 0 0 1 365.14 204.00)" font-size="11.66" fill="#111" stroke="#111" stroke-width="0.3">1</text>
<text transform="matrix(0.800 0 0 1 372.88 204.00)" font-size="11.66" fill="#111" stroke="#111" stroke-width="0.3">)</text>
<text transform="matrix(0.861 0 0 1 385.37 204.00)" font-size="12.72" font-weight="bold" fill="#000" stroke="#000" stroke-width="0.35">E</text>
<text transform="matrix(0.967 0 0 1 393.26 204.00)" font-size="12.72" font-weight="bold" fill="#000" stroke="#000" stroke-width="0.35">a</text>
<text transform="matrix(1.133 0 0 1 401.06 204.00)" font-size="12.72" font-weight="bold" fill="#000" stroke="#000" stroke-width="0.35">e</text>
<path d="M409.75 195.25H414.70V196.57H413.37V202.68H414.70V204.00H409.75V202.68H411.09V196.57H409.75Z" fill="#000" stroke="#000" stroke-width="0.35"/>
<text transform="matrix(0.800 0 0 1 320.32 264.00)" font-size="11.66" fill="#111" stroke="#111" stroke-width="0.3">(</text>
<text transform="matrix(0.955 0 0 1 325.01 264.00)" font-size="11.66" fill="#111" stroke="#111" stroke-width="0.3">3</text>
<text transform="matrix(0.955 0 0 1 332.01 264.00)" font-size="11.66" fill="#111" stroke="#111" stroke-width="0.3">3</text>
<text transform="matrix(0.959 0 0 1 338.84 264.00)" font-size="11.66" fill="#111" stroke="#111" stroke-width="0.3">2</text>
<text transform="matrix(0.800 0 0 1 346.78 264.00)" font-size="11.66" fill="#111" stroke="#111" stroke-width="0.3">)</text>
<text transform="matrix(0.944 0 0 1 359.40 264.00)" font-size="12.72" font-weight="bold" fill="#000" stroke="#000" stroke-width="0.35">B</text>
<text transform="matrix(1.108 0 0 1 368.46 264.00)" font-size="12.72" font-weight="bold" fill="#000" stroke="#000" stroke-width="0.35">m</text>
<text transform="matrix(1.264 0 0 1 381.05 264.00)" font-size="12.72" font-weight="bold" fill="#000" stroke="#000" stroke-width="0.35">r</text>
<path d="M387.71 255.25H392.80V256.57H391.40V262.68H392.80V264.00H387.71V262.68H389.12V256.57H387.71Z" fill="#000" stroke="#000" stroke-width="0.35"/>
<text transform="matrix(0.809 0 0 1 279.12 286.00)" font-size="11.66" fill="#111" stroke="#111" stroke-width="0.3">(</text>
<text transform="matrix(0.972 0 0 1 283.70 286.00)" font-size="11.66" fill="#111" stroke="#111" stroke-width="0.3">2</text>
<text transform="matrix(1.020 0 0 1 290.79 286.00)" font-size="11.66" fill="#111" stroke="#111" stroke-width="0.3">8</text>
<text transform="matrix(0.964 0 0 1 298.02 286.00)" font-size="11.66" fill="#111" stroke="#111" stroke-width="0.3">1</text>
<text transform="matrix(0.809 0 0 1 305.94 286.00)" font-size="11.66" fill="#111" stroke="#111" stroke-width="0.3">)</text>
<text transform="matrix(1.005 0 0 1 318.14 286.00)" font-size="12.72" font-weight="bold" fill="#000" stroke="#000" stroke-width="0.35">P</text>
<text transform="matrix(1.077 0 0 1 326.86 286.00)" font-size="12.72" font-weight="bold" fill="#000" stroke="#000" stroke-width="0.35">v</text>
<text transform="matrix(1.080 0 0 1 334.69 286.00)" font-size="12.72" font-weight="bold" fill="#000" stroke="#000" stroke-width="0.35">u</text>
<path d="M343.78 277.25H348.81V278.57H347.44V284.68H348.81V286.00H343.78V284.68H345.16V278.57H343.78Z" fill="#000" stroke="#000" stroke-width="0.35"/>
<path d="M350.37 277.25H355.40V278.57H354.03V284.68H355.40V286.00H350.37V284.68H351.75V278.57H350.37Z" fill="#000" stroke="#000" stroke-width="0.35"/>
<text transform="matrix(0.800 0 0 1 212.61 309.00)" font-size="11.66" fill="#111" stroke="#111" stroke-width="0.3">(</text>
<text transform="matrix(0.952 0 0 1 217.11 309.00)" font-size="11.66" fill="#111" stroke="#111" stroke-width="0.3">2</text>
<text transform="matrix(0.932 0 0 1 224.23 309.00)" font-size="11.66" fill="#111" stroke="#111" stroke-width="0.3">5</text>
<text transform="matrix(0.952 0 0 1 231.02 309.00)" font-size="11.66" fill="#111" stroke="#111" stroke-width="0.3">2</text>
<text transform="matrix(0.800 0 0 1 238.88 309.00)" font-size="11.66" fill="#111" stroke="#111" stroke-width="0.3">)</text>
<text transform="matrix(0.992 0 0 1 251.16 309.00)" font-size="12.72" font-weight="bold" fill="#000" stroke="#000" stroke-width="0.35">P</text>
<text transform="matrix(1.062 0 0 1 259.75 309.00)" font-size="12.72" font-weight="bold" fill="#000" stroke="#000" stroke-width="0.35">v</text>
<text transform="matrix(1.065 0 0 1 267.47 309.00)" font-size="12.72" font-weight="bold" fill="#000" stroke="#000" stroke-width="0.35">u</text>
<path d="M276.44 300.25H281.40V301.57H280.06V307.68H281.40V309.00H276.44V307.68H277.78V301.57H276.44Z" fill="#000" stroke="#000" stroke-width="0.35"/>
<rect x="293.00" y="303.90" width="3.80" height="1.4" fill="#111"/>
<text transform="matrix(0.925 0 0 1 302.21 309.00)" font-size="12.72" font-weight="bold" fill="#000" stroke="#000" stroke-width="0.35">B</text>
<text transform="matrix(0.972 0 0 1 311.20 309.00)" font-size="12.72" font-weight="bold" fill="#000" stroke="#000" stroke-width="0.35">s</text>
<text transform="matrix(1.198 0 0 1 318.08 309.00)" font-size="12.72" font-weight="bold" fill="#000" stroke="#000" stroke-width="0.35">i</text>
<text transform="matrix(0.868 0 0 1 322.60 309.00)" font-size="12.72" font-weight="bold" fill="#000" stroke="#000" stroke-width="0.35">E</text>
<path d="M331.01 300.25H336.00V301.57H334.65V307.68H336.00V309.00H331.01V307.68H332.37V301.57H331.01Z" fill="#000" stroke="#000" stroke-width="0.35"/>
<text transform="matrix(1.040 0 0 1 438.57 196.00)" font-size="12.72" font-weight="bold" fill="#000" stroke="#000" stroke-width="0.35">A</text>
<text transform="matrix(0.904 0 0 1 447.88 196.00)" font-size="12.72" font-weight="bold" fill="#000" stroke="#000" stroke-width="0.35">c</text>
<text transform="matrix(1.039 0 0 1 454.80 196.00)" font-size="12.72" font-weight="bold" fill="#000" stroke="#000" stroke-width="0.35">u</text>
<path d="M463.56 187.25H468.40V188.57H467.12V194.68H468.40V196.00H463.56V194.68H464.84V188.57H463.56Z" fill="#000" stroke="#000" stroke-width="0.35"/>
<rect x="480.20" y="190.90" width="3.20" height="1.4" fill="#111"/>
<text transform="matrix(0.867 0 0 1 489.26 196.00)" font-size="12.72" font-weight="bold" fill="#000" stroke="#000" stroke-width="0.35">E</text>
<text transform="matrix(0.929 0 0 1 497.11 196.00)" font-size="12.72" font-weight="bold" fill="#000" stroke="#000" stroke-width="0.35">c</text>
<text transform="matrix(1.059 0 0 1 504.12 196.00)" font-size="12.72" font-weight="bold" fill="#000" stroke="#000" stroke-width="0.35">o</text>
<text transform="matrix(1.035 0 0 1 512.85 196.00)" font-size="12.72" font-weight="bold" fill="#000" stroke="#000" stroke-width="0.35">5</text>
<text transform="matrix(1.099 0 0 1 520.84 196.00)" font-size="12.72" font-weight="bold" fill="#000" stroke="#000" stroke-width="0.35">7</text>
<text transform="matrix(1.089 0 0 1 529.12 196.00)" font-size="12.72" font-weight="bold" fill="#000" stroke="#000" stroke-width="0.35">M</text>
<path d="M541.42 187.25H546.40V188.57H545.05V194.68H546.40V196.00H541.42V194.68H542.77V188.57H541.42Z" fill="#000" stroke="#000" stroke-width="0.35"/>
<text transform="matrix(0.806 0 0 1 562.42 196.00)" font-size="11.66" fill="#111" stroke="#111" stroke-width="0.3">(</text>
<text transform="matrix(0.966 0 0 1 567.15 196.00)" font-size="11.66" fill="#111" stroke="#111" stroke-width="0.3">3</text>
<text transform="matrix(0.983 0 0 1 574.14 196.00)" font-size="11.66" fill="#111" stroke="#111" stroke-width="0.3">7</text>
<text transform="matrix(0.966 0 0 1 581.31 196.00)" font-size="11.66" fill="#111" stroke="#111" stroke-width="0.3">3</text>
<text transform="matrix(0.806 0 0 1 589.15 196.00)" font-size="11.66" fill="#111" stroke="#111" stroke-width="0.3">)</text>
<text transform="matrix(0.925 0 0 1 455.21 219.00)" font-size="12.72" font-weight="bold" fill="#000" stroke="#000" stroke-width="0.35">B</text>
<text transform="matrix(0.972 0 0 1 464.20 219.00)" font-size="12.72" font-weight="bold" fill="#000" stroke="#000" stroke-width="0.35">s</text>
<text transform="matrix(0.976 0 0 1 471.29 219.00)" font-size="12.72" font-weight="bold" fill="#000" stroke="#000" stroke-width="0.35">a</text>
<path d="M479.81 210.25H484.80V211.57H483.45V217.68H484.80V219.00H479.81V217.68H481.17V211.57H479.81Z" fill="#000" stroke="#000" stroke-width="0.35"/>
<text transform="matrix(0.800 0 0 1 498.71 219.00)" font-size="11.66" fill="#111" stroke="#111" stroke-width="0.3">(</text>
<text transform="matrix(0.992 0 0 1 503.25 219.00)" font-size="11.66" fill="#111" stroke="#111" stroke-width="0.3">4</text>
<text transform="matrix(0.991 0 0 1 510.23 219.00)" font-size="11.66" fill="#111" stroke="#111" stroke-width="0.3">0</text>
<text transform="matrix(0.947 0 0 1 517.30 219.00)" font-size="11.66" fill="#111" stroke="#111" stroke-width="0.3">1</text>
<text transform="matrix(0.800 0 0 1 525.08 219.00)" font-size="11.66" fill="#111" stroke="#111" stroke-width="0.3">)</text>
<text transform="matrix(0.899 0 0 1 464.57 234.00)" font-size="12.72" font-weight="bold" fill="#000" stroke="#000" stroke-width="0.35">S</text>
<text transform="matrix(0.971 0 0 1 472.77 234.00)" font-size="12.72" font-weight="bold" fill="#000" stroke="#000" stroke-width="0.35">a</text>
<text transform="matrix(1.193 0 0 1 480.60 234.00)" font-size="12.72" font-weight="bold" fill="#000" stroke="#000" stroke-width="0.35">l</text>
<path d="M485.33 225.25H490.30V226.57H488.96V232.68H490.30V234.00H485.33V232.68H486.68V226.57H485.33Z" fill="#000" stroke="#000" stroke-width="0.35"/>
<text transform="matrix(0.800 0 0 1 505.71 234.00)" font-size="11.66" fill="#111" stroke="#111" stroke-width="0.3">(</text>
<text transform="matrix(0.992 0 0 1 510.25 234.00)" font-size="11.66" fill="#111" stroke="#111" stroke-width="0.3">4</text>
<text transform="matrix(0.947 0 0 1 517.33 234.00)" font-size="11.66" fill="#111" stroke="#111" stroke-width="0.3">1</text>
<text transform="matrix(0.956 0 0 1 524.18 234.00)" font-size="11.66" fill="#111" stroke="#111" stroke-width="0.3">2</text>
<text transform="matrix(0.800 0 0 1 532.08 234.00)" font-size="11.66" fill="#111" stroke="#111" stroke-width="0.3">)</text>
<text transform="matrix(1.050 0 0 1 470.87 249.00)" font-size="12.72" font-weight="bold" fill="#000" stroke="#000" stroke-width="0.35">A</text>
<text transform="matrix(0.913 0 0 1 480.27 249.00)" font-size="12.72" font-weight="bold" fill="#000" stroke="#000" stroke-width="0.35">c</text>
<text transform="matrix(0.913 0 0 1 487.22 249.00)" font-size="12.72" font-weight="bold" fill="#000" stroke="#000" stroke-width="0.35">c</text>
<path d="M494.71 240.25H499.60V241.57H498.29V247.68H499.60V249.00H494.71V247.68H496.01V241.57H494.71Z" fill="#000" stroke="#000" stroke-width="0.35"/>
<text transform="matrix(0.800 0 0 1 514.71 249.00)" font-size="11.66" fill="#111" stroke="#111" stroke-width="0.3">(</text>
<text transform="matrix(0.992 0 0 1 519.25 249.00)" font-size="11.66" fill="#111" stroke="#111" stroke-width="0.3">4</text>
<text transform="matrix(0.947 0 0 1 526.33 249.00)" font-size="11.66" fill="#111" stroke="#111" stroke-width="0.3">1</text>
<text transform="matrix(0.952 0 0 1 533.35 249.00)" font-size="11.66" fill="#111" stroke="#111" stroke-width="0.3">3</text>
<text transform="matrix(0.800 0 0 1 541.08 249.00)" font-size="11.66" fill="#111" stroke="#111" stroke-width="0.3">)</text>
<text transform="matrix(1.034 0 0 1 478.22 264.00)" font-size="12.72" font-weight="bold" fill="#000" stroke="#000" stroke-width="0.35">H</text>
<text transform="matrix(1.185 0 0 1 487.86 264.00)" font-size="12.72" font-weight="bold" fill="#000" stroke="#000" stroke-width="0.35">i</text>
<text transform="matrix(1.059 0 0 1 492.08 264.00)" font-size="12.72" font-weight="bold" fill="#000" stroke="#000" stroke-width="0.35">n</text>
<text transform="matrix(0.921 0 0 1 500.45 264.00)" font-size="12.72" font-weight="bold" fill="#000" stroke="#000" stroke-width="0.35">c</text>
<path d="M508.00 255.25H512.94V256.57H511.61V262.68H512.94V264.00H508.00V262.68H509.33V256.57H508.00Z" fill="#000" stroke="#000" stroke-width="0.35"/>
<path d="M514.47 255.25H519.40V256.57H518.07V262.68H519.40V264.00H514.47V262.68H515.79V256.57H514.47Z" fill="#000" stroke="#000" stroke-width="0.35"/>
<text transform="matrix(0.800 0 0 1 534.52 264.00)" font-size="11.66" fill="#111" stroke="#111" stroke-width="0.3">(</text>
<text transform="matrix(0.995 0 0 1 539.07 264.00)" font-size="11.66" fill="#111" stroke="#111" stroke-width="0.3">4</text>
<text transform="matrix(0.950 0 0 1 546.16 264.00)" font-size="11.66" fill="#111" stroke="#111" stroke-width="0.3">1</text>
<text transform="matrix(0.995 0 0 1 553.07 264.00)" font-size="11.66" fill="#111" stroke="#111" stroke-width="0.3">4</text>
<text transform="matrix(0.800 0 0 1 560.98 264.00)" font-size="11.66" fill="#111" stroke="#111" stroke-width="0.3">)</text>
<text transform="matrix(0.915 0 0 1 531.22 286.00)" font-size="12.72" font-weight="bold" fill="#000" stroke="#000" stroke-width="0.35">B</text>
<text transform="matrix(0.964 0 0 1 540.08 286.00)" font-size="12.72" font-weight="bold" fill="#000" stroke="#000" stroke-width="0.35">a</text>
<text transform="matrix(1.058 0 0 1 548.01 286.00)" font-size="12.72" font-weight="bold" fill="#000" stroke="#000" stroke-width="0.35">n</text>
<path d="M556.91 277.25H561.84V278.57H560.52V284.68H561.84V286.00H556.91V284.68H558.24V278.57H556.91Z" fill="#000" stroke="#000" stroke-width="0.35"/>
<path d="M563.37 277.25H568.30V278.57H566.97V284.68H568.30V286.00H563.37V284.68H564.69V278.57H563.37Z" fill="#000" stroke="#000" stroke-width="0.35"/>
<text transform="matrix(0.800 0 0 1 584.41 286.00)" font-size="11.66" fill="#111" stroke="#111" stroke-width="0.3">(</text>
<text transform="matrix(0.992 0 0 1 588.95 286.00)" font-size="11.66" fill="#111" stroke="#111" stroke-width="0.3">4</text>
<text transform="matrix(1.024 0 0 1 595.79 286.00)" font-size="11.66" fill="#111" stroke="#111" stroke-width="0.3">9</text>
<text transform="matrix(1.024 0 0 1 602.77 286.00)" font-size="11.66" fill="#111" stroke="#111" stroke-width="0.3">9</text>
<text transform="matrix(0.800 0 0 1 610.78 286.00)" font-size="11.66" fill="#111" stroke="#111" stroke-width="0.3">)</text>
<text transform="matrix(1.032 0 0 1 566.57 309.00)" font-size="12.72" font-weight="bold" fill="#000" stroke="#000" stroke-width="0.35">A</text>
<text transform="matrix(1.211 0 0 1 575.72 309.00)" font-size="12.72" font-weight="bold" fill="#000" stroke="#000" stroke-width="0.35">f</text>
<text transform="matrix(1.154 0 0 1 580.72 309.00)" font-size="12.72" font-weight="bold" fill="#000" stroke="#000" stroke-width="0.35">l</text>
<path d="M585.30 300.25H590.11V301.57H588.85V307.68H590.11V309.00H585.30V307.68H586.57V301.57H585.30Z" fill="#000" stroke="#000" stroke-width="0.35"/>
<path d="M591.59 300.25H596.40V301.57H595.14V307.68H596.40V309.00H591.59V307.68H592.86V301.57H591.59Z" fill="#000" stroke="#000" stroke-width="0.35"/>
<rect x="608.20" y="303.90" width="3.70" height="1.4" fill="#111"/>
<text transform="matrix(0.885 0 0 1 617.68 309.00)" font-size="12.72" font-weight="bold" fill="#000" stroke="#000" stroke-width="0.35">S</text>
<text transform="matrix(1.065 0 0 1 625.68 309.00)" font-size="12.72" font-weight="bold" fill="#000" stroke="#000" stroke-width="0.35">m</text>
<text transform="matrix(1.174 0 0 1 637.75 309.00)" font-size="12.72" font-weight="bold" fill="#000" stroke="#000" stroke-width="0.35">l</text>
<path d="M642.41 300.25H647.30V301.57H646.00V307.68H647.30V309.00H642.41V307.68H643.72V301.57H642.41Z" fill="#000" stroke="#000" stroke-width="0.35"/>
<text transform="matrix(0.800 0 0 1 663.60 309.00)" font-size="11.66" fill="#111" stroke="#111" stroke-width="0.3">(</text>
<text transform="matrix(0.929 0 0 1 668.26 309.00)" font-size="11.66" fill="#111" stroke="#111" stroke-width="0.3">5</text>
<text transform="matrix(0.985 0 0 1 675.05 309.00)" font-size="11.66" fill="#111" stroke="#111" stroke-width="0.3">4</text>
<text transform="matrix(0.929 0 0 1 682.12 309.00)" font-size="11.66" fill="#111" stroke="#111" stroke-width="0.3">5</text>
<text transform="matrix(0.800 0 0 1 689.79 309.00)" font-size="11.66" fill="#111" stroke="#111" stroke-width="0.3">)</text>
<text transform="matrix(1.034 0 0 1 621.12 174.00)" font-size="12.72" font-weight="bold" fill="#000" stroke="#000" stroke-width="0.35">N</text>
<text transform="matrix(1.068 0 0 1 630.86 174.00)" font-size="12.72" font-weight="bold" fill="#000" stroke="#000" stroke-width="0.35">h</text>
<text transform="matrix(1.131 0 0 1 639.19 174.00)" font-size="12.72" font-weight="bold" fill="#000" stroke="#000" stroke-width="0.35">e</text>
<path d="M647.86 165.25H652.80V166.57H651.47V172.68H652.80V174.00H647.86V172.68H649.19V166.57H647.86Z" fill="#000" stroke="#000" stroke-width="0.35"/>
<text transform="matrix(0.800 0 0 1 667.70 174.00)" font-size="11.66" fill="#111" stroke="#111" stroke-width="0.3">(</text>
<text transform="matrix(1.015 0 0 1 672.10 174.00)" font-size="11.66" fill="#111" stroke="#111" stroke-width="0.3">6</text>
<text transform="matrix(0.937 0 0 1 679.21 174.00)" font-size="11.66" fill="#111" stroke="#111" stroke-width="0.3">1</text>
<text transform="matrix(0.959 0 0 1 686.07 174.00)" font-size="11.66" fill="#111" stroke="#111" stroke-width="0.3">7</text>
<text transform="matrix(0.800 0 0 1 693.79 174.00)" font-size="11.66" fill="#111" stroke="#111" stroke-width="0.3">)</text>
<text transform="matrix(0.920 0 0 1 628.32 189.00)" font-size="12.72" font-weight="bold" fill="#000" stroke="#000" stroke-width="0.35">B</text>
<text transform="matrix(1.081 0 0 1 637.15 189.00)" font-size="12.72" font-weight="bold" fill="#000" stroke="#000" stroke-width="0.35">m</text>
<text transform="matrix(1.300 0 0 1 649.49 189.00)" font-size="12.72" font-weight="bold" fill="#000" stroke="#000" stroke-width="0.35">t</text>
<path d="M655.74 180.25H660.70V181.57H659.36V187.68H660.70V189.00H655.74V187.68H657.08V181.57H655.74Z" fill="#000" stroke="#000" stroke-width="0.35"/>
<text transform="matrix(0.800 0 0 1 674.42 189.00)" font-size="11.66" fill="#111" stroke="#111" stroke-width="0.3">(</text>
<text transform="matrix(1.030 0 0 1 678.86 189.00)" font-size="11.66" fill="#111" stroke="#111" stroke-width="0.3">6</text>
<text transform="matrix(0.959 0 0 1 685.94 189.00)" font-size="11.66" fill="#111" stroke="#111" stroke-width="0.3">2</text>
<text transform="matrix(0.950 0 0 1 693.07 189.00)" font-size="11.66" fill="#111" stroke="#111" stroke-width="0.3">1</text>
<text transform="matrix(0.800 0 0 1 700.88 189.00)" font-size="11.66" fill="#111" stroke="#111" stroke-width="0.3">)</text>
<text transform="matrix(1.030 0 0 1 636.32 204.00)" font-size="12.72" font-weight="bold" fill="#000" stroke="#000" stroke-width="0.35">D</text>
<text transform="matrix(1.214 0 0 1 645.81 204.00)" font-size="12.72" font-weight="bold" fill="#000" stroke="#000" stroke-width="0.35">r</text>
<text transform="matrix(0.955 0 0 1 651.77 204.00)" font-size="12.72" font-weight="bold" fill="#000" stroke="#000" stroke-width="0.35">a</text>
<path d="M660.12 195.25H665.00V196.57H663.70V202.68H665.00V204.00H660.12V202.68H661.42V196.57H660.12Z" fill="#000" stroke="#000" stroke-width="0.35"/>
<text transform="matrix(0.800 0 0 1 679.52 204.00)" font-size="11.66" fill="#111" stroke="#111" stroke-width="0.3">(</text>
<text transform="matrix(1.030 0 0 1 683.96 204.00)" font-size="11.66" fill="#111" stroke="#111" stroke-width="0.3">6</text>
<text transform="matrix(0.955 0 0 1 691.21 204.00)" font-size="11.66" fill="#111" stroke="#111" stroke-width="0.3">3</text>
<text transform="matrix(1.030 0 0 1 697.96 204.00)" font-size="11.66" fill="#111" stroke="#111" stroke-width="0.3">6</text>
<text transform="matrix(0.800 0 0 1 705.98 204.00)" font-size="11.66" fill="#111" stroke="#111" stroke-width="0.3">)</text>
<text transform="matrix(0.880 0 0 1 661.78 226.00)" font-size="12.72" font-weight="bold" fill="#000" stroke="#000" stroke-width="0.35">S</text>
<text transform="matrix(1.226 0 0 1 669.62 226.00)" font-size="12.72" font-weight="bold" fill="#000" stroke="#000" stroke-width="0.35">f</text>
<text transform="matrix(0.908 0 0 1 674.79 226.00)" font-size="12.72" font-weight="bold" fill="#000" stroke="#000" stroke-width="0.35">c</text>
<path d="M682.24 217.25H687.10V218.57H685.81V224.68H687.10V226.00H682.24V224.68H683.53V218.57H682.24Z" fill="#000" stroke="#000" stroke-width="0.35"/>
<text transform="matrix(0.800 0 0 1 702.62 226.00)" font-size="11.66" fill="#111" stroke="#111" stroke-width="0.3">(</text>
<text transform="matrix(1.030 0 0 1 707.06 226.00)" font-size="11.66" fill="#111" stroke="#111" stroke-width="0.3">6</text>
<text transform="matrix(1.030 0 0 1 714.06 226.00)" font-size="11.66" fill="#111" stroke="#111" stroke-width="0.3">6</text>
<text transform="matrix(1.028 0 0 1 721.03 226.00)" font-size="11.66" fill="#111" stroke="#111" stroke-width="0.3">9</text>
<text transform="matrix(0.800 0 0 1 729.08 226.00)" font-size="11.66" fill="#111" stroke="#111" stroke-width="0.3">)</text>
<text transform="matrix(0.963 0 0 1 668.38 241.00)" font-size="12.72" font-weight="bold" fill="#000" stroke="#000" stroke-width="0.35">P</text>
<text transform="matrix(0.939 0 0 1 676.78 241.00)" font-size="12.72" font-weight="bold" fill="#000" stroke="#000" stroke-width="0.35">s</text>
<text transform="matrix(1.300 0 0 1 683.43 241.00)" font-size="12.72" font-weight="bold" fill="#000" stroke="#000" stroke-width="0.35">t</text>
<path d="M689.58 232.25H694.40V233.57H693.13V239.68H694.40V241.00H689.58V239.68H690.85V233.57H689.58Z" fill="#000" stroke="#000" stroke-width="0.35"/>
<text transform="matrix(0.800 0 0 1 707.72 241.00)" font-size="11.66" fill="#111" stroke="#111" stroke-width="0.3">(</text>
<text transform="matrix(1.030 0 0 1 712.16 241.00)" font-size="11.66" fill="#111" stroke="#111" stroke-width="0.3">6</text>
<text transform="matrix(0.973 0 0 1 719.32 241.00)" font-size="11.66" fill="#111" stroke="#111" stroke-width="0.3">7</text>
<text transform="matrix(0.955 0 0 1 726.41 241.00)" font-size="11.66" fill="#111" stroke="#111" stroke-width="0.3">3</text>
<text transform="matrix(0.800 0 0 1 734.18 241.00)" font-size="11.66" fill="#111" stroke="#111" stroke-width="0.3">)</text>
<text transform="matrix(1.057 0 0 1 691.20 264.00)" font-size="12.72" font-weight="bold" fill="#000" stroke="#000" stroke-width="0.35">M</text>
<text transform="matrix(1.218 0 0 1 702.53 264.00)" font-size="12.72" font-weight="bold" fill="#000" stroke="#000" stroke-width="0.35">f</text>
<text transform="matrix(1.161 0 0 1 707.56 264.00)" font-size="12.72" font-weight="bold" fill="#000" stroke="#000" stroke-width="0.35">l</text>
<path d="M712.17 255.25H717.00V256.57H715.72V262.68H717.00V264.00H712.17V262.68H713.44V256.57H712.17Z" fill="#000" stroke="#000" stroke-width="0.35"/>
<text transform="matrix(1.041 0 0 1 721.26 264.90)" font-size="12.72" font-weight="bold" fill="#000" stroke="#000" stroke-width="0.35">*</text>
<rect x="734.30" y="258.90" width="3.60" height="1.4" fill="#111"/>
<text transform="matrix(0.908 0 0 1 743.23 264.00)" font-size="12.72" font-weight="bold" fill="#000" stroke="#000" stroke-width="0.35">B</text>
<text transform="matrix(1.077 0 0 1 751.84 264.00)" font-size="12.72" font-weight="bold" fill="#000" stroke="#000" stroke-width="0.35">g</text>
<text transform="matrix(1.176 0 0 1 760.22 264.00)" font-size="12.72" font-weight="bold" fill="#000" stroke="#000" stroke-width="0.35">l</text>
<path d="M764.89 255.25H769.79V256.57H768.48V262.68H769.79V264.00H764.89V262.68H766.20V256.57H764.89Z" fill="#000" stroke="#000" stroke-width="0.35"/>
<path d="M771.30 255.25H776.20V256.57H774.89V262.68H776.20V264.00H771.30V262.68H772.61V256.57H771.30Z" fill="#000" stroke="#000" stroke-width="0.35"/>
<rect x="787.10" y="258.90" width="3.80" height="1.4" fill="#111"/>
<text transform="matrix(0.917 0 0 1 796.52 264.00)" font-size="12.72" font-weight="bold" fill="#000" stroke="#000" stroke-width="0.35">B</text>
<text transform="matrix(0.964 0 0 1 805.43 264.00)" font-size="12.72" font-weight="bold" fill="#000" stroke="#000" stroke-width="0.35">s</text>
<text transform="matrix(1.300 0 0 1 812.33 264.00)" font-size="12.72" font-weight="bold" fill="#000" stroke="#000" stroke-width="0.35">t</text>
<text transform="matrix(1.094 0 0 1 817.62 264.00)" font-size="12.72" font-weight="bold" fill="#000" stroke="#000" stroke-width="0.35">Y</text>
<path d="M827.16 255.25H832.10V256.57H830.77V262.68H832.10V264.00H827.16V262.68H828.49V256.57H827.16Z" fill="#000" stroke="#000" stroke-width="0.35"/>
<text transform="matrix(0.800 0 0 1 845.51 264.00)" font-size="11.66" fill="#111" stroke="#111" stroke-width="0.3">(</text>
<text transform="matrix(0.966 0 0 1 850.09 264.00)" font-size="11.66" fill="#111" stroke="#111" stroke-width="0.3">7</text>
<text transform="matrix(0.988 0 0 1 856.99 264.00)" font-size="11.66" fill="#111" stroke="#111" stroke-width="0.3">0</text>
<text transform="matrix(0.966 0 0 1 863.99 264.00)" font-size="11.66" fill="#111" stroke="#111" stroke-width="0.3">7</text>
<text transform="matrix(0.800 0 0 1 871.78 264.00)" font-size="11.66" fill="#111" stroke="#111" stroke-width="0.3">)</text>
<text transform="matrix(1.028 0 0 1 729.67 286.00)" font-size="12.72" font-weight="bold" fill="#000" stroke="#000" stroke-width="0.35">A</text>
<text transform="matrix(1.051 0 0 1 738.91 286.00)" font-size="12.72" font-weight="bold" fill="#000" stroke="#000" stroke-width="0.35">p</text>
<text transform="matrix(1.019 0 0 1 747.04 286.00)" font-size="12.72" font-weight="bold" fill="#000" stroke="#000" stroke-width="0.35">o</text>
<path d="M755.51 277.25H760.30V278.57H759.05V284.68H760.30V286.00H755.51V284.68H756.77V278.57H755.51Z" fill="#000" stroke="#000" stroke-width="0.35"/>
<text transform="matrix(0.800 0 0 1 774.61 286.00)" font-size="11.66" fill="#111" stroke="#111" stroke-width="0.3">(</text>
<text transform="matrix(0.966 0 0 1 779.19 286.00)" font-size="11.66" fill="#111" stroke="#111" stroke-width="0.3">7</text>
<text transform="matrix(0.932 0 0 1 786.23 286.00)" font-size="11.66" fill="#111" stroke="#111" stroke-width="0.3">5</text>
<text transform="matrix(0.966 0 0 1 793.09 286.00)" font-size="11.66" fill="#111" stroke="#111" stroke-width="0.3">7</text>
<text transform="matrix(0.800 0 0 1 800.88 286.00)" font-size="11.66" fill="#111" stroke="#111" stroke-width="0.3">)</text>
<text transform="matrix(0.865 0 0 1 750.51 309.00)" font-size="12.72" font-weight="bold" font-style="italic" fill="#000" stroke="#000" stroke-width="0.35">E</text>
<text transform="matrix(1.015 0 0 1 758.40 309.00)" font-size="12.72" font-weight="bold" font-style="italic" fill="#000" stroke="#000" stroke-width="0.35">n</text>
<text transform="matrix(1.032 0 0 1 766.46 309.00)" font-size="12.72" font-weight="bold" font-style="italic" fill="#000" stroke="#000" stroke-width="0.35">d</text>
<text transform="matrix(0.803 0 0 1 789.52 309.00)" font-size="11.66" fill="#111" stroke="#111" stroke-width="0.3">(</text>
<text transform="matrix(0.980 0 0 1 794.15 309.00)" font-size="11.66" fill="#111" stroke="#111" stroke-width="0.3">7</text>
<text transform="matrix(1.013 0 0 1 801.11 309.00)" font-size="11.66" fill="#111" stroke="#111" stroke-width="0.3">8</text>
<text transform="matrix(0.962 0 0 1 808.34 309.00)" font-size="11.66" fill="#111" stroke="#111" stroke-width="0.3">3</text>
<text transform="matrix(0.803 0 0 1 816.16 309.00)" font-size="11.66" fill="#111" stroke="#111" stroke-width="0.3">)</text>
<rect x="147" y="329" width="604" height="3" fill="#1e1e1e"/>
<rect x="147" y="333" width="604" height="3" fill="#1e1e1e"/>
<rect x="242" y="325" width="14" height="2" fill="#a020f0"/>
<rect x="405" y="325" width="24" height="2" fill="#a020f0"/>
<rect x="148" y="338" width="18" height="2" fill="#a020f0"/>
<path d="M165.5 243.5V338" stroke="#a020f0" stroke-width="1"/>
<rect x="299" y="336" width="2" height="7" fill="#111"/>
<rect x="453" y="336" width="2" height="7" fill="#111"/>
<rect x="607" y="336" width="2" height="7" fill="#111"/>
<text transform="matrix(0.977 0 0 1 276.67 345.70)" font-size="10.81" fill="#111" stroke="#111" stroke-width="0.3">2</text>
<text transform="matrix(1.014 0 0 1 283.31 345.70)" font-size="10.81" fill="#111" stroke="#111" stroke-width="0.3">0</text>
<text transform="matrix(1.014 0 0 1 289.93 345.70)" font-size="10.81" fill="#111" stroke="#111" stroke-width="0.3">0</text>
<text transform="matrix(1.011 0 0 1 430.55 345.70)" font-size="10.81" fill="#111" stroke="#111" stroke-width="0.3">4</text>
<text transform="matrix(1.011 0 0 1 437.15 345.70)" font-size="10.81" fill="#111" stroke="#111" stroke-width="0.3">0</text>
<text transform="matrix(1.011 0 0 1 443.75 345.70)" font-size="10.81" fill="#111" stroke="#111" stroke-width="0.3">0</text>
<text transform="matrix(1.053 0 0 1 584.52 345.70)" font-size="10.81" fill="#111" stroke="#111" stroke-width="0.3">6</text>
<text transform="matrix(1.018 0 0 1 591.27 345.70)" font-size="10.81" fill="#111" stroke="#111" stroke-width="0.3">0</text>
<text transform="matrix(1.018 0 0 1 597.91 345.70)" font-size="10.81" fill="#111" stroke="#111" stroke-width="0.3">0</text>
<path d="M417.5 352.5H424.5V348L429.6 360L424.5 372.5V368.5H417.5Z" fill="#a020f0" stroke="#000" stroke-width="1" stroke-linejoin="miter"/>
<text transform="matrix(0.917 0 0 1 396.54 385.60)" font-size="12.72" fill="#1a1a1a">M</text>
<text transform="matrix(0.926 0 0 1 406.83 385.60)" font-size="12.72" fill="#1a1a1a">1</text>
<text transform="matrix(0.931 0 0 1 414.33 385.60)" font-size="12.72" fill="#1a1a1a">3</text>
<text transform="matrix(1.208 0 0 1 425.50 385.60)" font-size="12.72" fill="#1a1a1a">f</text>
<text transform="matrix(0.930 0 0 1 430.08 385.60)" font-size="12.72" fill="#1a1a1a">w</text>
<text transform="matrix(1.000 0 0 1 439.25 385.60)" font-size="12.72" fill="#1a1a1a">d</text>
<text transform="matrix(1.192 0 0 1 372.32 442.00)" font-size="13.78" font-weight="bold" fill="#000" stroke="#000" stroke-width="0.35">p</text>
<text transform="matrix(1.201 0 0 1 381.89 442.00)" font-size="13.78" font-weight="bold" fill="#000" stroke="#000" stroke-width="0.35">Y</text>
<text transform="matrix(1.033 0 0 1 392.86 442.00)" font-size="13.78" font-weight="bold" fill="#000" stroke="#000" stroke-width="0.35">L</text>
<text transform="matrix(1.058 0 0 1 401.72 442.00)" font-size="13.78" font-weight="bold" fill="#000" stroke="#000" stroke-width="0.35">s</text>
<text transform="matrix(1.194 0 0 1 409.86 442.00)" font-size="13.78" font-weight="bold" fill="#000" stroke="#000" stroke-width="0.35">g</text>
<text transform="matrix(1.061 0 0 1 420.31 442.00)" font-size="13.78" font-weight="bold" fill="#000" stroke="#000" stroke-width="0.35">R</text>
<text transform="matrix(1.137 0 0 1 431.09 442.00)" font-size="13.78" font-weight="bold" fill="#000" stroke="#000" stroke-width="0.35">N</text>
<text transform="matrix(1.165 0 0 1 442.32 442.00)" font-size="13.78" font-weight="bold" fill="#000" stroke="#000" stroke-width="0.35">A</text>
<text transform="matrix(1.236 0 0 1 453.66 442.00)" font-size="13.78" font-weight="bold" fill="#000" stroke="#000" stroke-width="0.35">-</text>
<text transform="matrix(1.165 0 0 1 459.08 442.00)" font-size="13.78" font-weight="bold" fill="#000" stroke="#000" stroke-width="0.35">A</text>
<text transform="matrix(1.300 0 0 1 470.65 442.00)" font-size="13.78" font-weight="bold" fill="#000" stroke="#000" stroke-width="0.35">t</text>
<text transform="matrix(1.070 0 0 1 477.48 442.00)" font-size="13.78" font-weight="bold" fill="#000" stroke="#000" stroke-width="0.35">U</text>
<text transform="matrix(1.228 0 0 1 488.77 442.00)" font-size="13.78" font-weight="bold" fill="#000" stroke="#000" stroke-width="0.35">6</text>
<text transform="matrix(1.236 0 0 1 498.43 442.00)" font-size="13.78" font-weight="bold" fill="#000" stroke="#000" stroke-width="0.35">-</text>
<text transform="matrix(1.126 0 0 1 504.76 442.00)" font-size="13.78" font-weight="bold" fill="#000" stroke="#000" stroke-width="0.35">2</text>
<text transform="matrix(1.225 0 0 1 514.14 442.00)" font-size="13.78" font-weight="bold" fill="#000" stroke="#000" stroke-width="0.35">9</text>
<text transform="matrix(0.980 0 0 1 429.64 456.00)" font-size="11.13" fill="#1a1a1a">7</text>
<text transform="matrix(1.013 0 0 1 436.29 456.00)" font-size="11.13" fill="#1a1a1a">8</text>
<text transform="matrix(0.962 0 0 1 443.19 456.00)" font-size="11.13" fill="#1a1a1a">3</text>
<text transform="matrix(1.034 0 0 1 453.47 456.00)" font-size="11.13" fill="#1a1a1a">b</text>
<text transform="matrix(1.034 0 0 1 460.18 456.00)" font-size="11.13" fill="#1a1a1a">p</text>
<text x="800.72" y="10.50" font-size="8.7" fill="#cbcbcb" textLength="36.70" lengthAdjust="spacingAndGlyphs" font-weight="normal">Created by</text>
<path d="M841 2.8H844.4V7.2Q844.1 10.2 842.9 12.7H842.1Q841 10.2 841 8Z" fill="#8fd3f9"/>
<rect x="840.2" y="1.3" width="5" height="1.6" fill="#c2e8fb"/>
<path d="M845 2.2Q848.3 2.4 847.9 4.8Q847.5 7 845 7Z" fill="#aadefa"/>
<text x="849.88" y="10.70" font-size="10.1" fill="#8a9097" textLength="44.23" lengthAdjust="spacingAndGlyphs" font-weight="normal">SnapGene</text>
</svg></body></html>
